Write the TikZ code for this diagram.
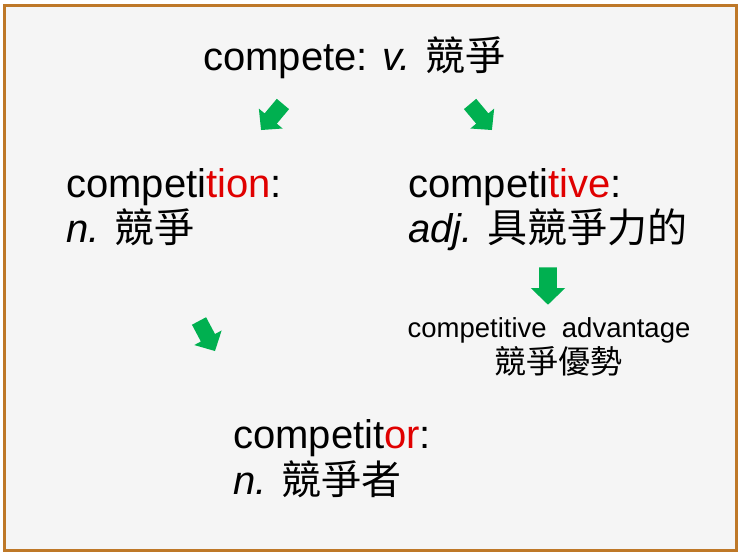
\documentclass[tikz,border=0pt]{standalone}
\usepackage{fontspec}
\setmainfont{Liberation Sans}
\newfontfamily\cjk{Noto Sans CJK TC}
\definecolor{wordred}{RGB}{224,0,0}
\definecolor{arrowgreen}{RGB}{0,176,80}
\definecolor{framebrown}{RGB}{190,120,40}
\definecolor{paper}{RGB}{245,245,245}
\newcommand{\zh}[1]{{\cjk #1}}
\newcommand{\suf}[1]{\textcolor{wordred}{#1}}

\begin{document}
\begin{tikzpicture}[x=1pt, y=-1pt,
  word/.style={anchor=base west, inner sep=0pt, font=\fontsize{40}{45}\selectfont},
  phrase/.style={anchor=base, inner sep=0pt, font=\fontsize{27.5}{32}\selectfont},
  bigarrow/.pic={\fill[arrowgreen] (-17,-8) -- (2,-8) -- (2,-15.5) -- (17,0)
    -- (2,15.5) -- (2,8) -- (-17,8) -- cycle;}]
  \useasboundingbox[fill=white] (0,0) rectangle (740,555);
  \draw[framebrown, line width=3pt, fill=paper] (4,5) rectangle (736,550);

  \node[word] (verb) at (203,70) {compete: \textit{v.} \zh{競爭}};

  \node[word] (tion) at (66,197) {competi\suf{tion}:};
  \node[word] (tionzh) at (66,242) {\textit{n.} \zh{競爭}};
  \node[word] (tive) at (408,197) {competi\suf{tive}:};
  \node[word] (tivezh) at (408,242) {\textit{adj.} \zh{具競爭力的}};
  \node[word] (tor) at (233,448) {competit\suf{or}:};
  \node[word] (torzh) at (233,494) {\textit{n.} \zh{競爭者}};

  \node[phrase] (adv) at (549,337) {competitive~ advantage};
  \node[phrase, font=\fontsize{32}{34}\selectfont] (advzh) at (558,373) {\zh{競爭優勢}};

  \pic[rotate=230] (a1) at (272,117) {bigarrow};
  \pic[rotate=-50] (a2) at (481,117) {bigarrow};
  \pic[rotate=-90, scale=1.1] (a3) at (548,286) {bigarrow};
  \pic[rotate=-62] (a4) at (207,336) {bigarrow};
\end{tikzpicture}
\end{document}
